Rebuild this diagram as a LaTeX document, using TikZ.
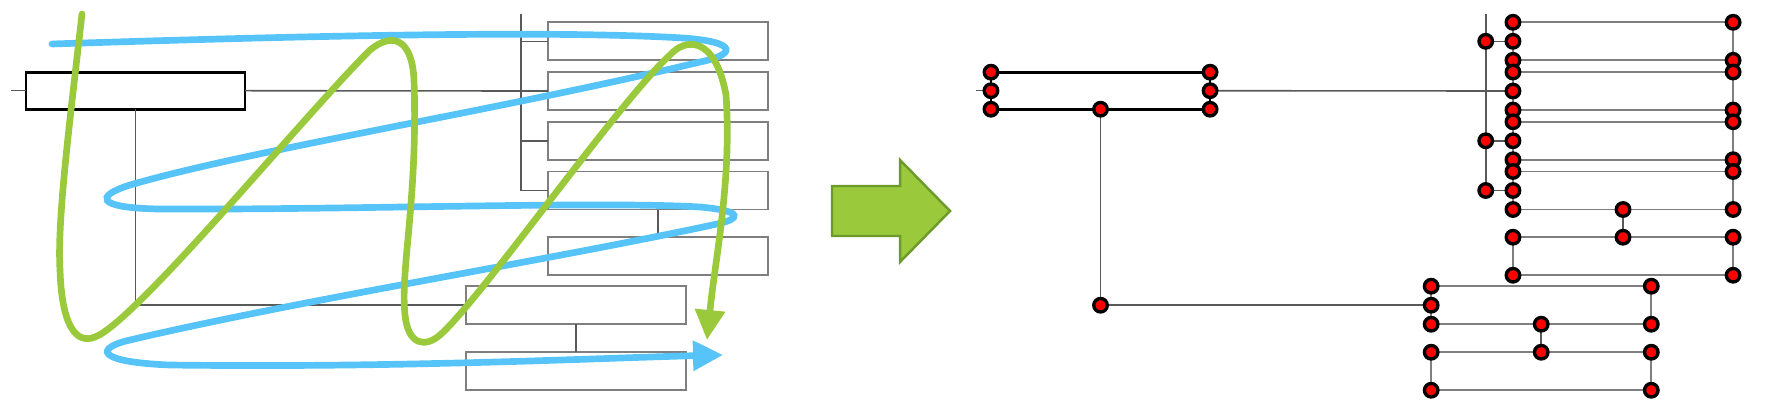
\documentclass[tikz,border=0pt]{standalone}
\usepackage{tikz}
\usetikzlibrary{arrows.meta,positioning}
\definecolor{flowblue}{HTML}{56C4F8}
\definecolor{flowgreen}{HTML}{9ACA3C}
\definecolor{flowdark}{HTML}{6E9A2C}
\definecolor{edgegray}{HTML}{7F7F7F}

\begin{document}
\begin{tikzpicture}[x=0.01cm,y=-0.01cm,
  node distance=1.17mm,
  box/.style={draw=edgegray,line width=0.5pt,minimum width=2.2cm,minimum height=0.38cm,inner sep=0pt,outer sep=0pt},
  rootbox/.style={box,draw=black,line width=0.75pt,minimum width=2.19cm,minimum height=0.37cm},
  wire/.style={draw=black!65,line width=0.45pt},
  dot/.style={circle,draw=black,fill=red,line width=0.95pt,minimum size=0.135cm,inner sep=0pt},
  sweep/.style={line width=1.9pt,line cap=round},
  tip/.style={-{Triangle[length=3mm,width=2.9mm]}}]
  \useasboundingbox (0,0) rectangle (1777,412);
  % the same tree twice: as boxes (left) and as corner points (right)
  \foreach \s/\dx in {l/0,r/965}{
    \node[rootbox] (\s-root) at (\dx+135.5,90.7) {};
    \node[box] (\s-c1) at (\dx+658,41.3) {};
    \node[box,below=of \s-c1] (\s-c2) {};
    \node[box,below=of \s-c2] (\s-c3) {};
    \node[box,below=of \s-c3] (\s-c4) {};
    \node[box,below=2.77mm of \s-c4] (\s-c5) {};
    \node[box] (\s-a) at (\dx+576.2,305.2) {};
    \node[box,below=2.8mm of \s-a] (\s-b) {};
    \coordinate (\s-bus) at (\dx+520.7,14);
    \coordinate (\s-stub) at (\dx+11,90.7);
    \draw[wire] (\s-stub) -- (\s-root.west);
    \draw[wire] (\s-root.east) -- (\s-c2.west);
    \draw[wire] (\s-bus) |- (\s-c4.west);
    \draw[wire] (\s-c1.west -| \s-bus) -- (\s-c1.west);
    \draw[wire] (\s-c3.west -| \s-bus) -- (\s-c3.west);
    \draw[wire] (\s-root.south) |- (\s-a.west);
    \draw[wire] (\s-c4.south) -- (\s-c5.north);
    \draw[wire] (\s-a.south) -- (\s-b.north);
  }
  % points on the right
  \foreach \n in {root,c1,c2,c3,c4,c5,a,b}
    \foreach \an/\k in {north west/nw,north east/ne,south west/sw,south east/se}
      \node[dot] (\n-\k) at (r-\n.\an) {};
  \foreach \n/\an in {root/west,root/east,root/south,c1/west,c2/west,c3/west,c4/west,c4/south,c5/north,a/west,a/south,b/north}
    \node[dot] (\n-\an) at (r-\n.\an) {};
  \node[dot] (bus1) at (r-c1.west -| r-bus) {};
  \node[dot] (bus3) at (r-c3.west -| r-bus) {};
  \node[dot] (bus4) at (r-c4.west -| r-bus) {};
  \node[dot] (elbow) at (r-root.south |- r-a.west) {};
  % reading orders
  \draw[sweep,flowblue,tip] (52,44) .. controls (300,36) and (550,30) .. (683,38)
    .. controls (740,42) and (735,55) .. (700,62)
    .. controls (500,110) and (250,150) .. (130,185)
    .. controls (95,196) and (95,208) .. (160,209)
    .. controls (350,210) and (600,201) .. (700,207)
    .. controls (745,211) and (740,219) .. (717,224)
    .. controls (550,260) and (300,300) .. (130,340)
    .. controls (95,348) and (95,362) .. (170,365)
    .. controls (400,368) and (600,358) .. (723,355);
  \draw[sweep,flowgreen,tip] (82,14) .. controls (70,120) and (57,220) .. (60,270)
    .. controls (62,330) and (78,344) .. (95,337)
    .. controls (135,322) and (300,120) .. (370,50)
    .. controls (392,32) and (412,38) .. (414,80)
    .. controls (418,200) and (400,270) .. (405,315)
    .. controls (408,345) and (425,348) .. (440,335)
    .. controls (480,300) and (620,100) .. (670,55)
    .. controls (685,38) and (715,35) .. (726,95)
    .. controls (732,180) and (715,260) .. (707,340);
  % block arrow
  \draw[fill=flowgreen,draw=flowdark,line width=0.7pt] (832,186) -- (900,186) -- (900,160) -- (950,211)
    -- (900,262) -- (900,236) -- (832,236) -- cycle;
\end{tikzpicture}
\end{document}
